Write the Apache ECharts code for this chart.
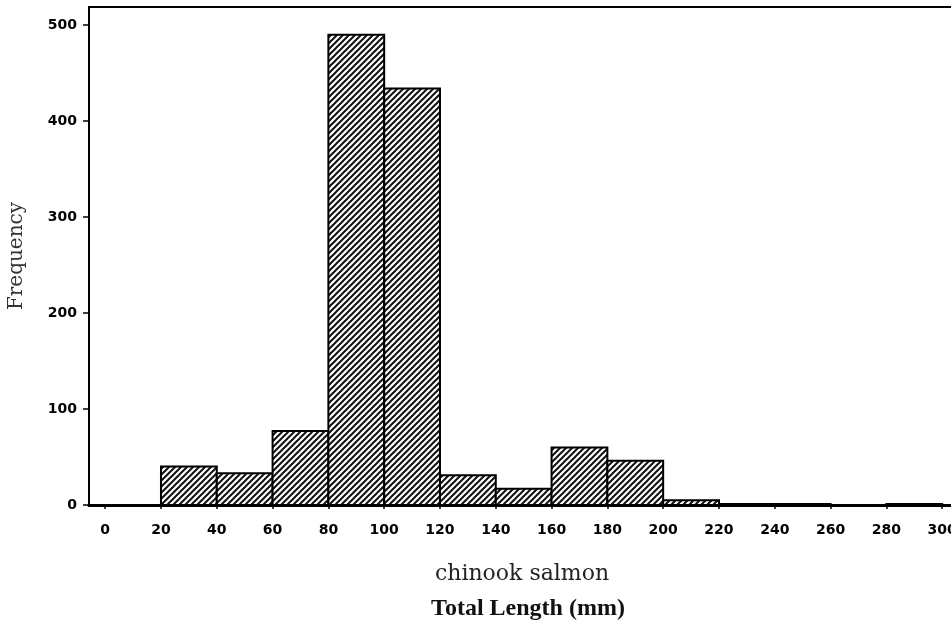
<!DOCTYPE html>
<html>
<head>
<meta charset="utf-8">
<script src="https://cdn.jsdelivr.net/npm/echarts@6/dist/echarts.min.js"></script>
<style>html,body{margin:0;padding:0;background:#fff;}#c{width:951px;height:624px;}</style>
</head>
<body>
<div id="c"></div>
<script>
// Histogram bins (mm) and frequencies
var binStart = [20, 40, 60, 80, 100, 120, 140, 160, 180, 200, 220, 240, 260, 280];
var binEnd   = [40, 60, 80, 100, 120, 140, 160, 180, 200, 220, 240, 260, 280, 300];
var counts   = [40, 33, 77, 490, 434, 31, 17, 60, 46, 5, 1, 1, 0, 1];
var xTicks = [0, 20, 40, 60, 80, 100, 120, 140, 160, 180, 200, 220, 240, 260, 280, 300];
var yTicks = [0, 100, 200, 300, 400, 500];

var data = binStart.map(function (s, i) { return [s, binEnd[i], counts[i]]; });

// hatch pattern "/"
var tile = document.createElement('canvas');
tile.width = 6; tile.height = 6;
var g = tile.getContext('2d');
g.fillStyle = '#fff'; g.fillRect(0, 0, 6, 6);
g.strokeStyle = '#111'; g.lineWidth = 2; g.lineCap = 'square';
g.beginPath();
g.moveTo(-1, 7); g.lineTo(7, -1);
g.moveTo(-1, 1); g.lineTo(1, -1);
g.moveTo(5, 7); g.lineTo(7, 5);
g.stroke();

var chart = echarts.init(document.getElementById('c'));
chart.setOption({
  animation: false,
  backgroundColor: '#fff',
  grid: { left: 89, top: 7, right: -4, bottom: 119, show: true, borderColor: '#000', borderWidth: 2, outerBoundsMode: 'none', containLabel: false },
  title: {
    text: 'Total Length (mm)', left: 523, textAlign: 'center', top: 592,
    textStyle: { fontFamily: 'Liberation Serif', fontSize: 24, fontWeight: 'bold', color: '#111' }
  },
  xAxis: {
    type: 'value', min: -5.8, max: 304.6,
    name: 'chinook salmon', nameLocation: 'middle', nameGap: 58,
    nameTextStyle: { fontFamily: 'DejaVu Serif', fontSize: 22, color: '#222' },
    splitLine: { show: false },
    axisLine: { show: true, onZero: false, lineStyle: { color: '#000', width: 3 } },
    axisTick: { show: true, length: 4, customValues: xTicks, lineStyle: { color: '#000', width: 1.5 } },
    axisLabel: { customValues: xTicks, margin: 18, fontFamily: 'DejaVu Sans', fontWeight: 'bold', fontSize: 14, color: '#000', hideOverlap: false }
  },
  yAxis: {
    type: 'value', min: 0, max: 519,
    name: 'Frequency', nameLocation: 'middle', nameGap: 62,
    nameTextStyle: { fontFamily: 'DejaVu Serif', fontSize: 20, color: '#333' },
    splitLine: { show: false },
    axisLine: { show: true, onZero: false, lineStyle: { color: '#000', width: 2 } },
    axisTick: { show: true, length: 6, customValues: yTicks, lineStyle: { color: '#000', width: 1.5 } },
    axisLabel: { customValues: yTicks, margin: 12, fontFamily: 'DejaVu Sans', fontWeight: 'bold', fontSize: 14, color: '#000' }
  },
  series: [{
    type: 'custom',
    data: data,
    encode: { x: [0, 1], y: 2 },
    renderItem: function (params, api) {
      var p0 = api.coord([api.value(0), api.value(2)]);
      var p1 = api.coord([api.value(1), 0]);
      return {
        type: 'rect',
        shape: { x: p0[0], y: p0[1], width: p1[0] - p0[0], height: p1[1] - p0[1] },
        style: { fill: { image: tile, repeat: 'repeat' }, stroke: '#000', lineWidth: 2 }
      };
    }
  }]
});
</script>
</body>
</html>
